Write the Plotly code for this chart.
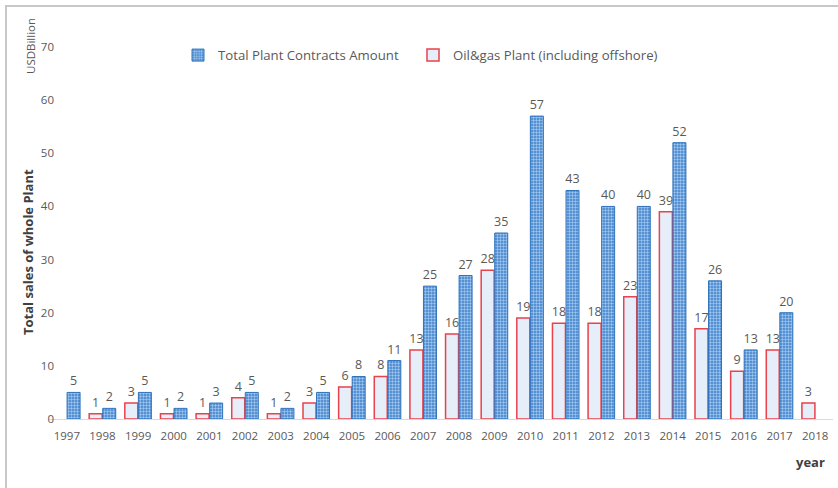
import plotly.graph_objects as go

# Contract amounts per year, USD billion
years = ["1997", "1998", "1999", "2000", "2001", "2002", "2003", "2004", "2005",
         "2006", "2007", "2008", "2009", "2010", "2011", "2012", "2013", "2014",
         "2015", "2016", "2017", "2018"]
total_plant = [5, 2, 5, 2, 3, 5, 2, 5, 8, 11, 25, 27, 35, 57, 43, 40, 40, 52,
               26, 13, 20, None]
oil_gas_plant = [None, 1, 3, 1, 1, 4, 1, 3, 6, 8, 13, 16, 28, 19, 18, 18, 23,
                 39, 17, 9, 13, 3]

W, H = 838, 488
L, R, T, B = 49, 5, 47, 69
PW, PH = W - L - R, H - T - B

FONT = "Open Sans"
GREY = "#595959"


def px_x(x):
    return (x - L) / PW


def px_y(y):
    return (H - B - y) / PH


fig = go.Figure()

fig.add_trace(go.Bar(
    name="Oil&gas Plant (including offshore)",
    x=years, y=oil_gas_plant,
    marker=dict(color="#e5eef9", line=dict(color="#e8424c", width=1.5)),
    text=[("" if v is None else str(v)) for v in oil_gas_plant],
    textposition="outside", constraintext="none", cliponaxis=False,
    textfont=dict(family=FONT, size=12.5, color=GREY),
    legend="legend2",
))

fig.add_trace(go.Bar(
    name="Total Plant Contracts Amount",
    x=years, y=total_plant,
    marker=dict(
        color="#4a8cd3",
        line=dict(color="#2f72bd", width=1),
        pattern=dict(shape=".", bgcolor="#3d80ca", fgcolor="#9fc6ee",
                     size=3, solidity=0.5, fillmode="replace"),
    ),
    text=[("" if v is None else str(v)) for v in total_plant],
    textposition="outside", constraintext="none", cliponaxis=False,
    textfont=dict(family=FONT, size=12.5, color=GREY),
    legend="legend",
))

legend_style = dict(
    orientation="h", xref="paper", yref="paper",
    y=px_y(40), xanchor="left", yanchor="top",
    font=dict(family=FONT, size=13.2, color=GREY),
    bgcolor="rgba(0,0,0,0)",
)

fig.update_layout(
    width=W, height=H,
    margin=dict(l=L, r=R, t=T, b=B),
    paper_bgcolor="white", plot_bgcolor="white",
    barmode="group", bargap=0.24, bargroupgap=0.04,
    font=dict(family=FONT, color=GREY),
    showlegend=True,
    legend=dict(x=px_x(178), **legend_style),
    legend2=dict(x=px_x(413), **legend_style),
    xaxis=dict(
        type="category", range=[-0.5, 21.5],
        showline=True, linecolor="#d9d9d9", linewidth=1,
        ticks="", showgrid=False, ticklabelstandoff=6,
        tickfont=dict(family=FONT, size=11.5, color=GREY),
    ),
    yaxis=dict(
        range=[0, 70], dtick=10, showgrid=False, zeroline=False,
        showline=False, ticks="", ticklabelstandoff=-6,
        tickfont=dict(family=FONT, size=11.5, color=GREY),
    ),
    annotations=[
        dict(text="Total sales of whole Plant", textangle=-90,
             xref="paper", yref="paper", x=px_x(28), y=px_y(252),
             xanchor="center", yanchor="middle", showarrow=False,
             font=dict(family=FONT, size=13, color="#404040", weight="bold")),
        dict(text="USDBillion", textangle=-90,
             xref="paper", yref="paper", x=px_x(30), y=px_y(46),
             xanchor="center", yanchor="middle", showarrow=False,
             font=dict(family=FONT, size=11.5, color=GREY)),
        dict(text="year", xref="paper", yref="paper",
             x=px_x(810), y=px_y(462), xanchor="center", yanchor="middle",
             showarrow=False,
             font=dict(family=FONT, size=13, color="#404040", weight="bold")),
    ],
    shapes=[
        dict(type="line", xref="paper", yref="paper",
             x0=px_x(5), x1=px_x(838), y0=px_y(6), y1=px_y(6),
             line=dict(color="#c8c8c8", width=2)),
        dict(type="line", xref="paper", yref="paper",
             x0=px_x(6), x1=px_x(6), y0=px_y(5), y1=px_y(488),
             line=dict(color="#c8c8c8", width=2)),
    ],
)

fig.write_html("out.html")
